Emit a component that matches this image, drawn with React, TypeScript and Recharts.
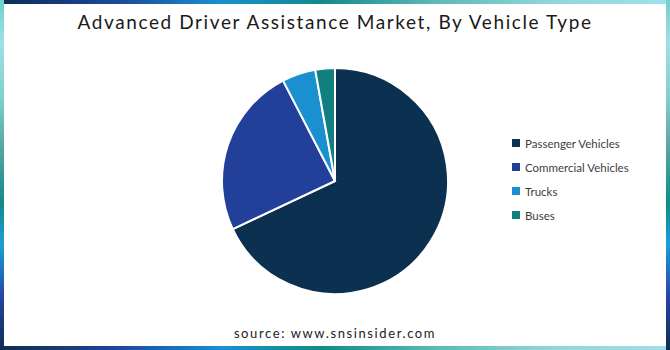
import React from "react";
import { PieChart, Pie, Cell, Legend } from "recharts";

const categories = ["Passenger Vehicles", "Commercial Vehicles", "Trucks", "Buses"];
const shares = [68.0, 24.4, 4.8, 2.8];

const COLORS = ["#0b3050", "#22409a", "#1b90d0", "#0f7f80"];

const data = categories.map((name, i) => ({ name, value: shares[i] }));

const hGrad =
  "linear-gradient(to right, #0c2d54 0%, #1d4a9a 18%, #1a90d0 33%, #138a8a 48%, #5fb8b8 65%, #8fd6dc 82%, #a0e0ea 100%)";
const vGrad =
  "linear-gradient(to bottom, #6fd0cc 0%, #9fdfea 12%, #7fd0cc 28%, #5aa5a5 42%, #128a8a 58%, #1b9fd5 70%, #2545a0 85%, #0c2d54 100%)";

const LegendContent = () => (
  <div style={{ fontFamily: "Lato, sans-serif", fontSize: 11.5, color: "#404040" }}>
    {data.map((d, i) => (
      <div key={d.name} style={{ display: "flex", alignItems: "center", height: 24 }}>
        <span
          style={{
            display: "inline-block",
            width: 8,
            height: 8,
            background: COLORS[i],
            marginRight: 5,
          }}
        />
        <span>{d.name}</span>
      </div>
    ))}
  </div>
);

export default function App() {
  return (
    <div style={{ position: "absolute", left: 0, top: 0, width: 670, height: 350, background: "#ffffff", overflow: "hidden" }}>
      <div style={{ position: "absolute", left: 0, top: 0, width: 670, height: 4, background: hGrad }} />
      <div style={{ position: "absolute", left: 0, bottom: 0, width: 670, height: 4, background: hGrad }} />
      <div style={{ position: "absolute", left: 0, top: 0, width: 4, height: 350, background: vGrad }} />
      <div style={{ position: "absolute", right: 0, top: 0, width: 4, height: 350, background: vGrad }} />
      <div
        style={{
          position: "absolute",
          left: 0,
          top: 10,
          width: 670,
          textAlign: "center",
          fontFamily: "Lato, sans-serif",
          fontSize: 19,
          letterSpacing: 1.6,
          color: "#1a1a1a",
        }}
      >
        Advanced Driver Assistance Market, By Vehicle Type
      </div>
      <div style={{ position: "absolute", left: 0, top: 0 }}>
        <PieChart width={670} height={350} margin={{ top: 0, right: 0, bottom: 0, left: 0 }}>
          <Pie
            data={data}
            dataKey="value"
            nameKey="name"
            cx={335}
            cy={181}
            outerRadius={113}
            startAngle={90}
            endAngle={-270}
            stroke="#ffffff"
            strokeWidth={2}
            isAnimationActive={false}
          >
            {data.map((d, i) => (
              <Cell key={d.name} fill={COLORS[i]} />
            ))}
          </Pie>
          <Legend
            layout="vertical"
            content={<LegendContent />}
            wrapperStyle={{ left: 512, top: 131, width: 140 }}
          />
        </PieChart>
      </div>
      <div
        style={{
          position: "absolute",
          left: 0,
          top: 325,
          width: 670,
          textAlign: "center",
          fontFamily: "Lato, sans-serif",
          fontSize: 13,
          letterSpacing: 1.6,
          color: "#222222",
        }}
      >
        source: www.snsinsider.com
      </div>
    </div>
  );
}
